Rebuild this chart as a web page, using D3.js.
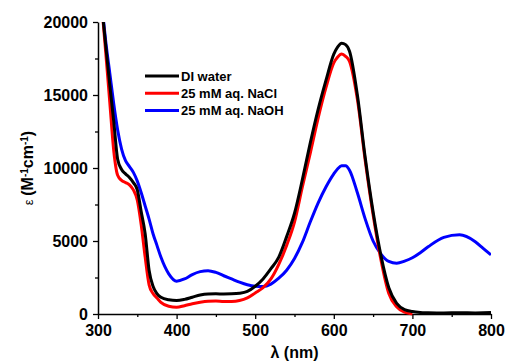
<!DOCTYPE html>
<html>
<head>
<meta charset="utf-8">
<script src="https://cdn.jsdelivr.net/npm/d3@7"></script>
<style>
  body { margin: 0; background: #fff; }
  svg text { font-family: "Liberation Sans", Arial, sans-serif; font-weight: bold; }
</style>
</head>
<body>
<div id="chart"></div>
<script>
// wavelengths (nm) shared by all three spectra
const wavelengths = [305, 310, 315, 320, 325, 330, 335, 340, 345, 350, 355, 360, 365, 370, 375, 380,
  390, 400, 410, 420, 430, 440, 450, 460, 470, 480, 490, 500, 510, 520, 530, 540, 550, 560, 570,
  580, 590, 600, 605, 610, 615, 620, 630, 640, 650, 660, 670, 680, 690, 700, 710, 720, 740, 760,
  780, 790, 800];

const diWater = [21000, 18300, 15700, 13200, 10600, 9900, 9600, 9350, 9000, 8500, 7000, 5500, 3000,
  1900, 1400, 1150, 970, 920, 1000, 1150, 1300, 1370, 1380, 1370, 1380, 1420, 1550, 1900, 2400,
  3100, 3900, 5300, 6900, 9200, 11700, 14000, 16000, 17800, 18300, 18550, 18450, 18000, 15000,
  10700, 7000, 4000, 1800, 730, 300, 170, 110, 90, 70, 90, 70, 80, 100];

const nacl = [21000, 17800, 14500, 11200, 9500, 9150, 9000, 8850, 8500, 7800, 6100, 3900, 2000,
  1400, 1100, 800, 530, 460, 570, 700, 800, 870, 890, 860, 860, 920, 1100, 1440, 1800, 2400, 3400,
  4700, 6300, 8700, 11000, 13400, 15500, 17200, 17600, 17800, 17650, 17300, 14700, 10500, 6800,
  3700, 1400, 500, 120, 0, null, null, null, null, null, null, null];

const naoh = [21200, 18600, 16500, 14400, 12600, 11300, 10500, 10100, 9700, 9100, 8300, 7400, 6500,
  5500, 4700, 3900, 2750, 2250, 2400, 2700, 2900, 2970, 2850, 2620, 2400, 2180, 2000, 1900, 1880,
  2050, 2450, 3000, 3800, 4900, 6300, 7600, 8700, 9600, 9950, 10150, 10150, 9850, 8300, 6500,
  5000, 4100, 3600, 3480, 3620, 3850, 4200, 4600, 5250, 5420, 4950, 4500, 4050];

const seriesNames = ["DI water", "25 mM aq. NaCl", "25 mM aq. NaOH"];
const seriesColors = ["#000000", "#ff0000", "#0000ff"];
const seriesValues = [diWater, nacl, naoh];

const xTicks = [300, 400, 500, 600, 700, 800];
const yTicks = [0, 5000, 10000, 15000, 20000];

const W = 506, H = 362;
const margin = { top: 22, right: 15, bottom: 48, left: 98 };
const width = W - margin.left - margin.right,
      height = H - margin.top - margin.bottom;

const svg = d3.select("#chart").append("svg")
  .attr("width", W)
  .attr("height", H);

const g = svg.append("g")
  .attr("transform", `translate(${margin.left},${margin.top})`);

const x = d3.scaleLinear().domain([300, 800]).range([0, width]);
const y = d3.scaleLinear().domain([0, 20000]).range([height, 0]);

svg.append("defs").append("clipPath").attr("id", "clip")
  .append("rect").attr("width", width).attr("height", height + 4).attr("y", 0);

// minor ticks
g.append("g")
  .attr("transform", `translate(0,${height})`)
  .call(d3.axisBottom(x).tickValues(d3.range(350, 800, 100)).tickSize(3).tickFormat(""))
  .call(a => a.select(".domain").remove())
  .selectAll("line").attr("stroke", "#000").attr("stroke-width", 1.3);

g.append("g")
  .call(d3.axisLeft(y).tickValues(d3.range(2500, 20000, 5000)).tickSize(3).tickFormat(""))
  .call(a => a.select(".domain").remove())
  .selectAll("line").attr("stroke", "#000").attr("stroke-width", 1.3);

// major axes
const xAxis = g.append("g")
  .attr("transform", `translate(0,${height})`)
  .call(d3.axisBottom(x).tickValues(xTicks).tickSize(5).tickSizeOuter(0).tickPadding(6)
    .tickFormat(d3.format("d")));

const yAxis = g.append("g")
  .call(d3.axisLeft(y).tickValues(yTicks).tickSize(5).tickSizeOuter(0).tickPadding(5)
    .tickFormat(d3.format("d")));

[xAxis, yAxis].forEach(a => {
  a.select(".domain").attr("stroke-width", 1.5);
  a.selectAll("line").attr("stroke-width", 1.3);
  a.selectAll("text").style("font-size", "16px").style("font-weight", "bold")
    .style("font-family", "'Liberation Sans', Arial, sans-serif").attr("fill", "#000");
});

// spectra
const line = d3.line()
  .defined(d => d[1] !== null)
  .x(d => x(d[0]))
  .y(d => y(d[1]))
  .curve(d3.curveMonotoneX);

const plot = g.append("g").attr("clip-path", "url(#clip)");
[2, 1, 0].forEach(i => {
  plot.append("path")
    .datum(wavelengths.map((w, j) => [w, seriesValues[i][j]]))
    .attr("fill", "none")
    .attr("stroke", seriesColors[i])
    .attr("stroke-width", 3)
    .attr("stroke-linejoin", "round")
    .attr("d", line);
});

// legend
const legend = svg.append("g").attr("transform", "translate(145,76)");
seriesNames.forEach((name, i) => {
  const row = legend.append("g").attr("transform", `translate(0,${i * 17.2})`);
  row.append("line")
    .attr("x1", 0).attr("x2", 34)
    .attr("stroke", seriesColors[i]).attr("stroke-width", 3);
  row.append("text")
    .attr("x", 36).attr("y", 4.5)
    .style("font-size", "13px")
    .text(name);
});

// axis titles
svg.append("text")
  .attr("x", margin.left + width / 2)
  .attr("y", 358)
  .attr("text-anchor", "middle")
  .style("font-size", "16px")
  .text("λ (nm)");

const yTitle = svg.append("text")
  .attr("transform", `translate(33,${margin.top + height / 2}) rotate(-90)`)
  .attr("text-anchor", "middle")
  .style("font-size", "16px");
yTitle.append("tspan").style("font-weight", "normal").style("font-size", "13px").text("ε ");
yTitle.append("tspan").text("(M");
yTitle.append("tspan").attr("baseline-shift", "super").style("font-size", "10px").text("-1");
yTitle.append("tspan").text("cm");
yTitle.append("tspan").attr("baseline-shift", "super").style("font-size", "10px").text("-1");
yTitle.append("tspan").text(")");
</script>
</body>
</html>
